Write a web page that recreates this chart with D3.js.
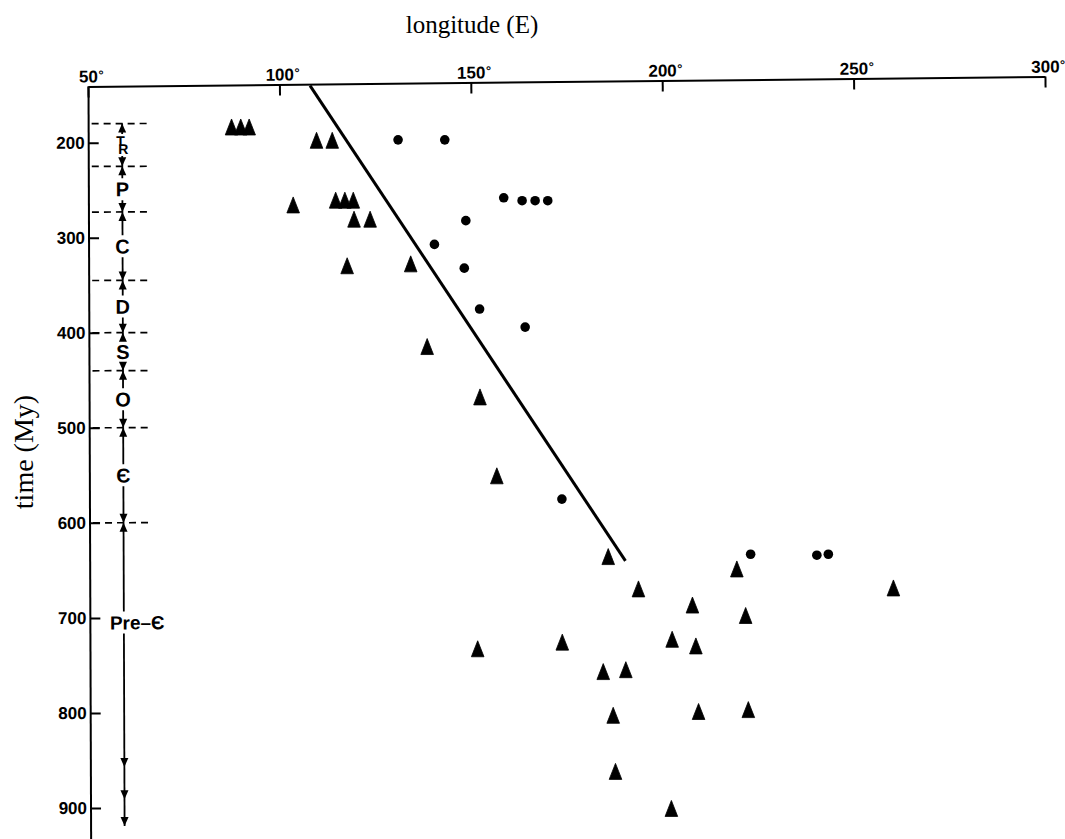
<!DOCTYPE html>
<html>
<head>
<meta charset="utf-8">
<script src="https://cdn.jsdelivr.net/npm/d3@7"></script>
<style>
  html, body { margin: 0; padding: 0; background: #fff; }
  svg { display: block; }
  .axis text, .period-label { font-family: "Liberation Sans", Arial, sans-serif; font-weight: bold; fill: #000; }
  .axis-title { font-family: "Liberation Serif", "DejaVu Serif", serif; fill: #000; }
</style>
</head>
<body>
<svg id="chart" width="1065" height="839"></svg>
<script>
// [longitude E, age My]
const triangleSites = [
  [87.5, 184], [89.9, 184], [92.1, 184],
  [109.7, 198], [113.8, 198],
  [103.6, 266], [114.7, 261], [117.1, 261], [119.3, 261],
  [119.5, 281], [123.7, 281],
  [117.7, 330], [134.3, 328],
  [138.6, 415], [152.4, 468], [156.8, 551],
  [185.9, 636], [193.8, 670], [219.5, 649], [207.9, 687], [221.8, 698],
  [260.4, 669],
  [151.8, 733], [173.9, 726], [202.6, 723], [208.8, 730],
  [184.6, 757], [190.5, 755],
  [187.2, 803], [209.5, 799], [222.5, 797],
  [187.8, 862], [202.4, 901]
];

const circleSites = [
  [131.0, 197], [143.2, 197],
  [158.6, 258], [163.4, 261], [166.8, 261], [170.1, 261],
  [148.7, 282], [140.5, 307], [148.3, 332],
  [152.3, 375], [164.2, 394], [173.8, 575],
  [223.1, 633], [240.4, 634], [243.4, 633]
];

const trendLine = [[108, 140], [190.4, 640]];

const lonTicks = [50, 100, 150, 200, 250, 300];
const ageTicks = [200, 300, 400, 500, 600, 700, 800, 900];

// geological column
const periodNames = ["TR", "P", "C", "D", "S", "O", "Є", "Pre–Є"];
const periodTops = [180, 225, 273, 345, 400, 440, 500, 600];
const periodBases = [225, 273, 345, 400, 440, 500, 600, 919];
const preCambrianLabelAge = 705;
const preCambrianArrowAges = [857, 891, 919];

const width = 1065, height = 839;
const axisTop = 86.5;
const axisLeft = 88.5;
const columnX = 33.5; // column offset from the time axis

const svg = d3.select("#chart");
svg.append("rect").attr("width", width).attr("height", height).attr("fill", "#fff");

const x = d3.scaleLinear().domain([50, 300]).range([88, 1045]);
const y = d3.scaleLinear().domain([200, 900]).range([142.7, 808]);

// titles
svg.append("text")
  .attr("class", "axis-title")
  .attr("x", 472).attr("y", 33)
  .attr("text-anchor", "middle")
  .attr("font-size", 25)
  .text("longitude (E)");

svg.append("text")
  .attr("class", "axis-title")
  .attr("transform", "translate(33,452) rotate(-90)")
  .attr("text-anchor", "middle")
  .attr("font-size", 28)
  .text("time (My)");

// longitude axis along the top (the scan is slightly tilted)
const gx = svg.append("g")
  .attr("class", "axis")
  .attr("transform", `translate(${axisLeft},${axisTop}) rotate(-0.6) translate(${-axisLeft},0)`)
  .call(
    d3.axisTop(x)
      .tickValues(lonTicks)
      .tickSizeInner(-11)
      .tickSizeOuter(0)
      .tickPadding(4)
      .tickFormat((d) => d)
  );

gx.select(".domain").attr("stroke", "#000").attr("stroke-width", 2);
gx.selectAll(".tick line").attr("stroke", "#000").attr("stroke-width", 2);
gx.selectAll(".tick text").attr("font-size", 17);
gx.selectAll(".tick").each(function () {
  const t = d3.select(this).select("text");
  const w = t.node().getComputedTextLength();
  d3.select(this).append("text")
    .attr("x", w / 2 + 0.5)
    .attr("y", -7)
    .attr("font-size", 13)
    .attr("text-anchor", "start")
    .text("°");
});

// time axis + geological column
const gy = svg.append("g")
  .attr("transform", `translate(${axisLeft},${axisTop}) rotate(-0.2) translate(0,${-axisTop})`);

gy.append("line")
  .attr("x1", 0).attr("x2", 0)
  .attr("y1", axisTop).attr("y2", height + 2)
  .attr("stroke", "#000").attr("stroke-width", 2);

const yAxis = gy.append("g")
  .attr("class", "axis")
  .call(
    d3.axisLeft(y)
      .tickValues(ageTicks)
      .tickSizeInner(-10)
      .tickSizeOuter(0)
      .tickPadding(4)
  );
yAxis.select(".domain").remove();
yAxis.selectAll(".tick line").attr("stroke", "#000").attr("stroke-width", 2);
yAxis.selectAll(".tick text").attr("font-size", 17);

// period boundaries
gy.selectAll(".boundary")
  .data(periodTops)
  .enter()
  .append("line")
  .attr("class", "boundary")
  .attr("x1", 3).attr("x2", 61)
  .attr("y1", (d) => y(d)).attr("y2", (d) => y(d))
  .attr("stroke", "#000")
  .attr("stroke-width", 1.7)
  .attr("stroke-dasharray", "7,5");

const arrowUp = "M0,0 L4,9 L-4,9 Z";
const arrowDown = "M0,0 L4,-9 L-4,-9 Z";
const gap = 11;

const periods = periodNames.map((name, i) => ({
  name,
  top: periodTops[i],
  base: periodBases[i],
  mid: i === periodNames.length - 1 ? preCambrianLabelAge : (periodTops[i] + periodBases[i]) / 2,
}));

const col = gy.append("g").attr("transform", `translate(${columnX},0)`);

periods.forEach((p) => {
  const yc = y(p.mid);
  col.append("line")
    .attr("x1", 0).attr("x2", 0)
    .attr("y1", y(p.top)).attr("y2", yc - gap)
    .attr("stroke", "#000").attr("stroke-width", 1.8);
  col.append("path")
    .attr("d", arrowUp)
    .attr("transform", `translate(0,${y(p.top)})`)
    .attr("fill", "#000");

  col.append("line")
    .attr("x1", 0).attr("x2", 0)
    .attr("y1", yc + gap).attr("y2", y(p.base))
    .attr("stroke", "#000").attr("stroke-width", 1.8);

  const downAges = p.name === "Pre–Є" ? preCambrianArrowAges : [p.base];
  downAges.forEach((a) => {
    col.append("path")
      .attr("d", arrowDown)
      .attr("transform", `translate(0,${y(a)})`)
      .attr("fill", "#000");
  });

  if (p.name === "TR") {
    // Triassic symbol: T set over R in one text
    const t = col.append("text")
      .attr("class", "period-label")
      .attr("x", -2).attr("y", yc + 1)
      .attr("text-anchor", "start")
      .attr("font-size", 14);
    t.append("tspan").attr("x", -6).text("T");
    t.append("tspan").attr("x", -4).attr("dy", 8).attr("font-size", 14).text("R");
  } else if (p.name === "Pre–Є") {
    col.append("text")
      .attr("class", "period-label")
      .attr("x", -14).attr("y", yc)
      .attr("dy", "0.36em")
      .attr("text-anchor", "start")
      .attr("font-size", 19)
      .text(p.name);
  } else {
    col.append("text")
      .attr("class", "period-label")
      .attr("x", 0).attr("y", yc)
      .attr("dy", "0.36em")
      .attr("text-anchor", "middle")
      .attr("font-size", 20)
      .text(p.name);
  }
});

// trend line
svg.append("path")
  .datum(trendLine)
  .attr("d", d3.line().x((d) => x(d[0])).y((d) => y(d[1])))
  .attr("fill", "none")
  .attr("stroke", "#000")
  .attr("stroke-width", 3);

// pole positions
svg.append("g")
  .selectAll("path")
  .data(triangleSites)
  .enter()
  .append("path")
  .attr("d", "M0,-8.5 L6.3,7.5 L-6.3,7.5 Z")
  .attr("transform", (d) => `translate(${x(d[0])},${y(d[1])})`)
  .attr("fill", "#000")
  .attr("stroke", "#000")
  .attr("stroke-width", 0.8)
  .attr("stroke-linejoin", "round");

svg.append("g")
  .selectAll("circle")
  .data(circleSites)
  .enter()
  .append("circle")
  .attr("cx", (d) => x(d[0]))
  .attr("cy", (d) => y(d[1]))
  .attr("r", 4.8)
  .attr("fill", "#000");
</script>
</body>
</html>
